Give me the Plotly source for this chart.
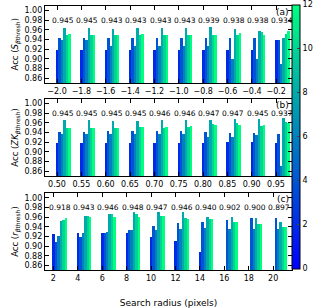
import plotly.graph_objects as go

# ---------------- data ----------------
bar_levels = [2, 4, 6, 8, 10, 12]          # colour value of each bar in a group

a_x = [-2.0, -1.8, -1.6, -1.4, -1.2, -1.0, -0.8, -0.6, -0.4, -0.2]
a_ticktext = ["\u22122.0", "\u22121.8", "\u22121.6", "\u22121.4", "\u22121.2",
              "\u22121.0", "\u22120.8", "\u22120.6", "\u22120.4", "\u22120.2"]
a_vals = [
    [0.920, 0.944, 0.939, 0.965, 0.950, 0.952],
    [0.920, 0.944, 0.939, 0.965, 0.950, 0.951],
    [0.920, 0.943, 0.927, 0.963, 0.950, 0.951],
    [0.920, 0.943, 0.927, 0.964, 0.951, 0.952],
    [0.920, 0.943, 0.927, 0.964, 0.950, 0.951],
    [0.918, 0.943, 0.927, 0.965, 0.950, 0.951],
    [0.918, 0.943, 0.927, 0.966, 0.950, 0.951],
    [0.918, 0.943, 0.900, 0.962, 0.950, 0.955],
    [0.918, 0.943, 0.900, 0.959, 0.957, 0.951],
    [0.939, 0.940, 0.889, 0.944, 0.952, 0.959],
]
a_labels = ["0.945", "0.945", "0.943", "0.943", "0.943", "0.943", "0.939", "0.938", "0.938", "0.934"]

b_x = [0.50, 0.55, 0.60, 0.65, 0.70, 0.75, 0.80, 0.85, 0.90, 0.95]
b_ticktext = ["0.50", "0.55", "0.60", "0.65", "0.70", "0.75", "0.80", "0.85", "0.90", "0.95"]
b_vals = [
    [0.920, 0.942, 0.937, 0.966, 0.949, 0.951],
    [0.920, 0.942, 0.937, 0.966, 0.949, 0.951],
    [0.920, 0.943, 0.938, 0.964, 0.951, 0.951],
    [0.920, 0.943, 0.938, 0.964, 0.952, 0.953],
    [0.920, 0.943, 0.937, 0.966, 0.951, 0.953],
    [0.920, 0.944, 0.937, 0.967, 0.952, 0.954],
    [0.919, 0.942, 0.932, 0.966, 0.959, 0.957],
    [0.921, 0.939, 0.932, 0.968, 0.960, 0.957],
    [0.921, 0.939, 0.936, 0.968, 0.954, 0.956],
    [0.919, 0.938, 0.872, 0.970, 0.963, 0.961],
]
b_labels = ["0.945", "0.945", "0.945", "0.945", "0.946", "0.946", "0.947", "0.947", "0.945", "0.937"]

c_x = [2, 4, 6, 8, 10, 12, 14, 16, 18, 20]
c_ticktext = ["2", "4", "6", "8", "10", "12", "14", "16", "18", "20"]
c_vals = [
    [0.926, 0.908, 0.922, 0.953, 0.955, 0.958],
    [0.928, 0.919, 0.927, 0.963, 0.963, 0.961],
    [0.928, 0.928, 0.930, 0.967, 0.967, 0.961],
    [0.927, 0.934, 0.934, 0.971, 0.966, 0.960],
    [0.920, 0.942, 0.934, 0.971, 0.963, 0.962],
    [0.910, 0.948, 0.936, 0.970, 0.959, 0.957],
    [0.888, 0.951, 0.938, 0.961, 0.956, 0.957],
    [None, 0.954, 0.935, 0.961, 0.949, 0.949],
    [None, 0.958, 0.935, 0.958, 0.945, 0.945],
    [None, 0.959, 0.935, 0.951, 0.940, 0.940],
]
c_labels = ["0.918", "0.943", "0.946", "0.948", "0.947", "0.946", "0.940", "0.902", "0.900", "0.897"]

y_tickvals = [0.86, 0.88, 0.90, 0.92, 0.94, 0.96, 0.98, 1.00]
y_ticktext = ["0.86", "0.88", "0.90", "0.92", "0.94", "0.96", "0.98", "1.00"]
cb_ticks = [0, 2, 4, 6, 8, 10, 12]

# ---------------- styling ----------------
W, H = 317, 308
FONT = "DejaVu Sans"
cmin, cmax = 0, 12


def winter(v):
    t = (v - cmin) / (cmax - cmin)
    return "rgb(0,%d,%d)" % (round(255 * t), round(255 * (1 - 0.5 * t)))


panels = [
    dict(x=a_x, tt=a_ticktext, vals=a_vals, labels=a_labels, w=0.02,
         xr=[-2.1, -0.07], top=6, bot=89,
         title="Acc (<i>S</i><sub><i>\u03b2</i>thresh</sub>)", tag="(a)"),
    dict(x=b_x, tt=b_ticktext, vals=b_vals, labels=b_labels, w=0.005,
         xr=[0.475, 0.983], top=106, bot=189,
         title="Acc (<i>ZK</i><sub><i>\u03b2</i>thresh</sub>)", tag="(b)"),
    dict(x=c_x, tt=c_ticktext, vals=c_vals, labels=c_labels, w=0.2,
         xr=[1.3, 21.55], top=207, bot=290,
         title="Acc (<i>r</i><sub><i>\u03b2</i>thresh</sub>)", tag="(c)"),
]

fig = go.Figure()
annotations = []
x0, x1 = 45 / W, 293 / W

for p_i, p in enumerate(panels):
    sfx = "" if p_i == 0 else str(p_i + 1)
    xa, ya = "x" + sfx, "y" + sfx
    w = p["w"]
    for b_i, lev in enumerate(bar_levels):
        xs = [g + b_i * w for g in p["x"]]
        ys = [row[b_i] for row in p["vals"]]
        fig.add_trace(go.Bar(x=xs, y=ys, width=w, marker=dict(color=winter(lev), line=dict(width=0)),
                             xaxis=xa, yaxis=ya, showlegend=False, hoverinfo="skip"))
    for g, lab in zip(p["x"], p["labels"]):
        annotations.append(dict(x=g + 2.5 * w, y=0.98, xref=xa, yref=ya, text=lab, showarrow=False,
                                font=dict(family=FONT, size=7.5, color="black"), xanchor="center",
                                yanchor="middle"))
    annotations.append(dict(x=1, y=1, xref=xa + " domain", yref=ya + " domain", text=p["tag"],
                            showarrow=False, xanchor="right", yanchor="top",
                            font=dict(family=FONT, size=9, color="black"), xshift=-1, yshift=1))
    axis_common = dict(showline=True, linecolor="black", linewidth=1, mirror="allticks",
                       ticks="inside", ticklen=4, tickcolor="black", showgrid=False, zeroline=False,
                       tickfont=dict(family=FONT, size=8, color="black"))
    fig.update_layout(**{
        "xaxis" + sfx: dict(domain=[x0, x1], anchor=ya, range=p["xr"], tickvals=p["x"],
                            ticktext=p["tt"], **axis_common),
        "yaxis" + sfx: dict(domain=[1 - p["bot"] / H, 1 - p["top"] / H], anchor=xa,
                            range=[0.85, 1.01], tickvals=y_tickvals, ticktext=y_ticktext,
                            title=dict(text=p["title"], font=dict(family=FONT, size=8.5, color="black"),
                                       standoff=4),
                            **axis_common),
    })

fig.layout.xaxis3.title = dict(text="Search radius (pixels)", font=dict(family=FONT, size=9, color="black"),
                               standoff=19)

# colour bar (dummy invisible trace)
fig.add_trace(go.Scatter(x=[c_x[0], c_x[0]], y=[0.9, 0.9], mode="markers", xaxis="x3", yaxis="y3",
                         marker=dict(color=[cmin, cmax], cmin=cmin, cmax=cmax, opacity=0, size=1,
                                     colorscale=[[0, winter(0)], [1, winter(12)]], showscale=True,
                                     colorbar=dict(x=293 / W, xanchor="left", y=1 - 5 / H, yanchor="top",
                                                   len=283 / H, lenmode="fraction", thickness=8,
                                                   xpad=0, ypad=0, outlinewidth=1, outlinecolor="black",
                                                   tickvals=cb_ticks, ticks="inside", ticklen=3,
                                                   tickfont=dict(family=FONT, size=8, color="black"))),
                         showlegend=False, hoverinfo="skip"))

fig.update_layout(width=W, height=H, margin=dict(l=0, r=0, t=0, b=0), barmode="overlay",
                  plot_bgcolor="white", paper_bgcolor="white", annotations=annotations,
                  font=dict(family=FONT, size=8, color="black"), bargap=0)

fig.write_html("out.html")
